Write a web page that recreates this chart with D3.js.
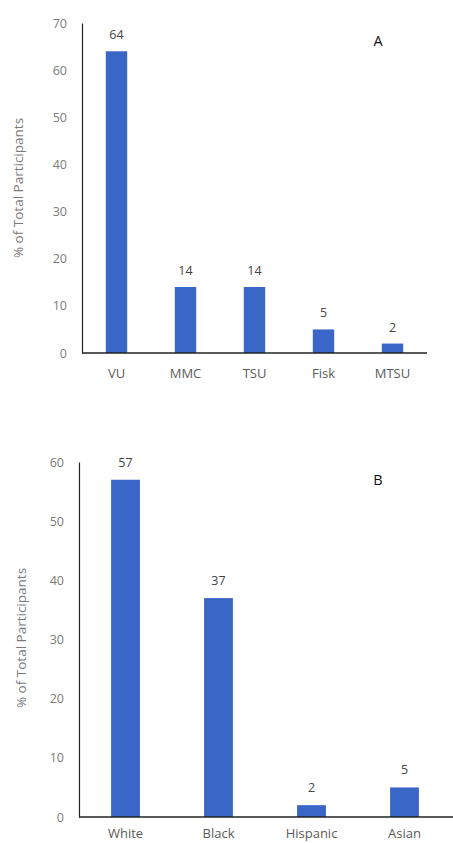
<!DOCTYPE html>
<html>
<head>
<meta charset="utf-8">
<script src="https://cdn.jsdelivr.net/npm/d3@7"></script>
<style>
  html, body { margin: 0; padding: 0; background: #fff; }
  svg { display: block; }
  text { font-family: "Open Sans", "DejaVu Sans", sans-serif; }
</style>
</head>
<body>
<svg id="chart" width="453" height="843"></svg>
<script>
// Panel A: participants by institution
const institutions = ["VU", "MMC", "TSU", "Fisk", "MTSU"];
const institutionPct = [64, 14, 14, 5, 2];
const ticksA = [0, 10, 20, 30, 40, 50, 60, 70];

// Panel B: participants by race / ethnicity
const races = ["White", "Black", "Hispanic", "Asian"];
const racePct = [57, 37, 2, 5];
const ticksB = [0, 10, 20, 30, 40, 50, 60];

const yTitle = "% of Total Participants";
const barColor = "#3a66c8";

const svg = d3.select("#chart");

function panel(cfg) {
  const g = svg.append("g");
  const x = d3.scaleBand().domain(cfg.cats).range([cfg.x0, cfg.x1]).paddingInner(cfg.pad).paddingOuter(cfg.pad / 2);
  const y = d3.scaleLinear().domain([0, cfg.max]).range([cfg.y0, cfg.yTop]);

  // value axis: line plus tick labels only
  const yAxis = g.append("g")
    .attr("transform", `translate(${cfg.x0},0)`)
    .call(d3.axisLeft(y).tickValues(cfg.ticks).tickSize(0).tickPadding(15));
  yAxis.select(".domain").attr("stroke", "#222").attr("stroke-width", 1.2);
  yAxis.selectAll("text").attr("fill", "#7a7a7a").attr("font-size", 12.5);

  // bars
  g.selectAll("rect.bar").data(cfg.values).join("rect")
    .attr("class", "bar")
    .attr("x", (d, i) => x(cfg.cats[i]))
    .attr("width", x.bandwidth())
    .attr("y", d => y(d))
    .attr("height", d => y(0) - y(d))
    .attr("fill", barColor);

  // category axis
  const xAxis = g.append("g")
    .attr("transform", `translate(0,${cfg.y0})`)
    .call(d3.axisBottom(x).tickSize(0).tickPadding(cfg.xPad));
  xAxis.select(".domain").attr("d", `M${cfg.x0},0H${cfg.axisEnd}`).attr("stroke", "#222").attr("stroke-width", 1.4);
  xAxis.selectAll("text").attr("fill", "#5a5a5a").attr("font-size", 13);

  // value labels above bars
  g.selectAll("text.val").data(cfg.values).join("text")
    .attr("class", "val")
    .attr("x", (d, i) => x(cfg.cats[i]) + x.bandwidth() / 2)
    .attr("y", d => y(d) - cfg.labelGap)
    .attr("text-anchor", "middle")
    .attr("fill", "#444")
    .attr("font-size", 12.5)
    .text(d => d);

  // axis title
  g.append("text")
    .attr("transform", `translate(${cfg.titleX},${cfg.titleY}) rotate(-90)`)
    .attr("text-anchor", "middle")
    .attr("dominant-baseline", "middle")
    .attr("fill", "#7a7a7a")
    .attr("font-size", 13.5)
    .text(yTitle);

  // panel letter
  g.append("text")
    .attr("x", cfg.letterX).attr("y", cfg.letterY)
    .attr("text-anchor", "middle")
    .attr("dominant-baseline", "middle")
    .attr("fill", "#111")
    .attr("font-size", 14.5)
    .text(cfg.letter);
}

panel({
  cats: institutions, values: institutionPct, ticks: ticksA, max: 70,
  x0: 82, x1: 427, axisEnd: 427, pad: 0.69,
  y0: 353, yTop: 23, xPad: 16, labelGap: 12,
  titleX: 19, titleY: 188, letter: "A", letterX: 378, letterY: 42
});

panel({
  cats: races, values: racePct, ticks: ticksB, max: 60,
  x0: 79, x1: 451, axisEnd: 453, pad: 0.69,
  y0: 817, yTop: 462, xPad: 12, labelGap: 13,
  titleX: 22, titleY: 638, letter: "B", letterX: 378, letterY: 481
});
</script>
</body>
</html>
